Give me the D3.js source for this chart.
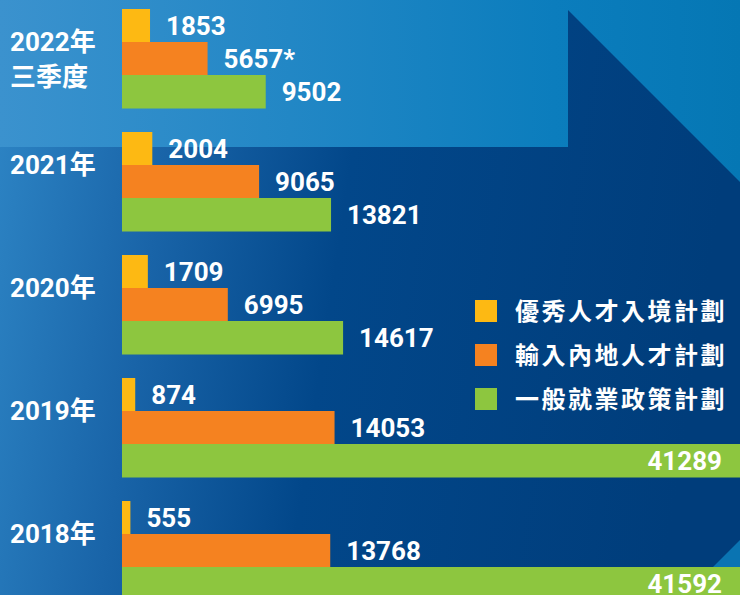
<!DOCTYPE html>
<html>
<head>
<meta charset="utf-8">
<script src="https://cdn.jsdelivr.net/npm/d3@7"></script>
<style>
  html, body { margin: 0; padding: 0; background: #003f7f; }
  svg { display: block; }
</style>
</head>
<body>
<div id="chart"></div>
<script>
// chart data
const years = ["2022", "2021", "2020", "2019", "2018"];
const yearLabels = [["2022年", "三季度"], ["2021年"], ["2020年"], ["2019年"], ["2018年"]];
const schemes = ["優秀人才入境計劃", "輸入內地人才計劃", "一般就業政策計劃"];
const talentValues = [1853, 2004, 1709, 874, 555];
const mainlandValues = [5657, 9065, 6995, 14053, 13768];
const generalValues = [9502, 13821, 14617, 41289, 41592];
const valueNotes = [["", "*", ""], ["", "", ""], ["", "", ""], ["", "", ""], ["", "", ""]];
const colors = ["#fdb913", "#f58220", "#8dc63f"];

const width = 740, height = 595;

const rows = years.map((y, i) => ({
  year: y,
  label: yearLabels[i],
  values: [talentValues[i], mainlandValues[i], generalValues[i]],
  notes: valueNotes[i],
}));

const svg = d3.select("#chart")
  .append("svg")
  .attr("width", width)
  .attr("height", height);

// background
const defs = svg.append("defs");
const baseGrad = defs.append("linearGradient")
  .attr("id", "baseGrad")
  .attr("x1", 0).attr("y1", 0).attr("x2", 1).attr("y2", 0.12);
baseGrad.append("stop").attr("offset", 0).attr("stop-color", "#2e86c6");
baseGrad.append("stop").attr("offset", 0.25).attr("stop-color", "#1964a8");
baseGrad.append("stop").attr("offset", 0.5).attr("stop-color", "#02478a");
baseGrad.append("stop").attr("offset", 1).attr("stop-color", "#003d7b");

const topGrad = defs.append("linearGradient")
  .attr("id", "topGrad")
  .attr("x1", 0).attr("y1", 0).attr("x2", 1).attr("y2", 0);
topGrad.append("stop").attr("offset", 0).attr("stop-color", "#3b92ce");
topGrad.append("stop").attr("offset", 0.75).attr("stop-color", "#0b7dbd");
topGrad.append("stop").attr("offset", 1).attr("stop-color", "#0577b4");

svg.append("rect")
  .attr("width", width)
  .attr("height", height)
  .attr("fill", "url(#baseGrad)");

svg.append("path")
  .attr("d", "M0,0H740V182L568,10V147H0Z")
  .attr("fill", "url(#topGrad)");

svg.append("path")
  .attr("d", "M713,567L740,540V595H713Z")
  .attr("fill", "#0a74b2");

// scales
const x = d3.scaleLinear()
  .domain([0, 40000])
  .range([122, 122 + 605]);

const y = d3.scaleBand()
  .domain(years)
  .range([9, 600])
  .paddingInner(0.195);

const ySub = d3.scaleBand()
  .domain(d3.range(schemes.length))
  .range([0, y.bandwidth()]);

const numFont = "Roboto, 'Noto Sans CJK TC', sans-serif";

const groups = svg.selectAll(".year")
  .data(rows)
  .join("g")
  .attr("class", "year")
  .attr("transform", d => `translate(0,${y(d.year)})`);

groups.selectAll("rect")
  .data(d => d.values)
  .join("rect")
  .attr("x", x(0))
  .attr("y", (v, i) => ySub(i))
  .attr("width", v => x(v) - x(0))
  .attr("height", ySub.bandwidth() + 0.5)
  .attr("fill", (v, i) => colors[i]);

groups.selectAll(".value")
  .data(d => d.values.map((v, i) => ({ v, i, note: d.notes[i] })))
  .join("text")
  .attr("class", "value")
  .attr("x", d => x(d.v) + 16 > width - 40 ? width - 18 : x(d.v) + 16)
  .attr("y", d => ySub(d.i) + ySub.bandwidth() / 2)
  .attr("dy", "0.36em")
  .attr("text-anchor", d => x(d.v) + 16 > width - 40 ? "end" : "start")
  .attr("fill", "#fff")
  .attr("font-family", numFont)
  .attr("font-weight", "bold")
  .attr("font-size", 26)
  .text(d => d.v + d.note);

groups.selectAll(".ylabel")
  .data(d => d.label)
  .join("text")
  .attr("class", "ylabel")
  .attr("x", 10)
  .attr("y", (t, i) => ySub.bandwidth() + i * 35)
  .attr("dy", "0.36em")
  .attr("fill", "#fff")
  .attr("font-family", numFont)
  .attr("font-weight", "bold")
  .attr("font-size", 26)
  .text(t => t);

// legend
const legend = svg.append("g")
  .attr("transform", "translate(475,300)");

const items = legend.selectAll("g")
  .data(schemes)
  .join("g")
  .attr("transform", (d, i) => `translate(0,${i * 44})`);

items.append("rect")
  .attr("width", 22)
  .attr("height", 22)
  .attr("fill", (d, i) => colors[i]);

items.append("text")
  .attr("x", 40)
  .attr("y", 11)
  .attr("dy", "0.36em")
  .attr("fill", "#fff")
  .attr("font-family", "'Noto Sans CJK TC', sans-serif")
  .attr("font-weight", "bold")
  .attr("font-size", 24)
  .attr("letter-spacing", 2.5)
  .text(d => d);
</script>
</body>
</html>
